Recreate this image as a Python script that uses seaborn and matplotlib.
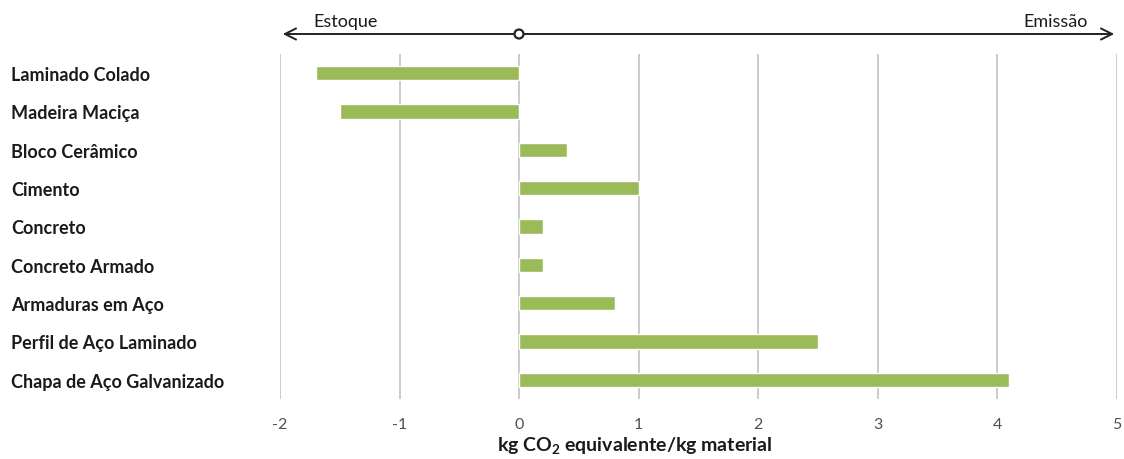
import matplotlib
matplotlib.use("Agg")
import matplotlib.pyplot as plt
import pandas as pd
import seaborn as sns

# Embodied carbon per material (kg CO2 eq / kg material)
materials = [
    "Laminado Colado",
    "Madeira Maciça",
    "Bloco Cerâmico",
    "Cimento",
    "Concreto",
    "Concreto Armado",
    "Armaduras em Aço",
    "Perfil de Aço Laminado",
    "Chapa de Aço Galvanizado",
]
co2_values = [-1.7, -1.5, 0.4, 1.0, 0.2, 0.2, 0.8, 2.5, 4.1]
x_ticks = [-2, -1, 0, 1, 2, 3, 4, 5]
x_tick_labels = ["-2", "-1", "0", "1", "2", "3", "4", "5"]

sns.set_theme(style="white")
plt.rcParams["font.family"] = ["Lato", "DejaVu Sans"]
plt.rcParams["mathtext.fontset"] = "custom"
plt.rcParams["mathtext.rm"] = "Lato"
plt.rcParams["mathtext.bf"] = "Lato:bold"

DPI = 100
W, H = 1124, 460
fig = plt.figure(figsize=(W / DPI, H / DPI), dpi=DPI)
ax = fig.add_axes([280 / W, 1 - 400 / H, (1117 - 280) / W, (400 - 55) / H])

df = pd.DataFrame({"material": materials, "co2": co2_values})
sns.barplot(data=df, x="co2", y="material", orient="h", color="#9BBB59",
            saturation=1, width=0.37, ax=ax, zorder=3)

ax.set_xlim(-2, 5)
ax.set_ylim(8.5, -0.5)
ax.set_xticks(x_ticks)
ax.set_xticklabels(x_tick_labels, fontsize=11.5, color="#505050")
ax.xaxis.grid(True, color="#BDBDBD", linewidth=1.1, zorder=0)
ax.yaxis.grid(False)
for s in ax.spines.values():
    s.set_visible(False)
ax.tick_params(axis="x", length=0, pad=13)

# Category labels left-aligned at the figure margin
ax.tick_params(axis="y", length=0, pad=(280 - 11) * 72 / DPI)
for lbl in ax.get_yticklabels():
    lbl.set_horizontalalignment("left")
    lbl.set_fontweight("bold")
    lbl.set_fontsize(13)
    lbl.set_color("#1A1A1A")
ax.set_ylabel("")

ax.set_xlabel(r"kg CO$_\mathbf{2}$ equivalente/kg material", fontsize=14,
              fontweight="bold", color="#1A1A1A")
ax.xaxis.set_label_coords((635 - 280) / (1117 - 280), -(436 - 400) / (400 - 55))

# Storage / emission direction arrow above the plot
y_arrow = 1 - 35 / H
fig.add_artist(matplotlib.patches.FancyArrowPatch(
    (280 / W, y_arrow), (1117 / W, y_arrow), transform=fig.transFigure,
    arrowstyle="<->,head_length=8,head_width=4", color="#222222",
    linewidth=1.4, mutation_scale=1))
fig.add_artist(matplotlib.patches.Ellipse(
    (519 / W, y_arrow), 9 / W, 9 / H, transform=fig.transFigure,
    facecolor="white", edgecolor="#222222", linewidth=1.6, zorder=5))
fig.text(313 / W, 1 - 22 / H, "Estoque", ha="left", va="center",
         fontsize=13, color="#1A1A1A")
fig.text(1088 / W, 1 - 22 / H, "Emissão", ha="right", va="center",
         fontsize=13, color="#1A1A1A")

fig.savefig("out.png", dpi=DPI)
